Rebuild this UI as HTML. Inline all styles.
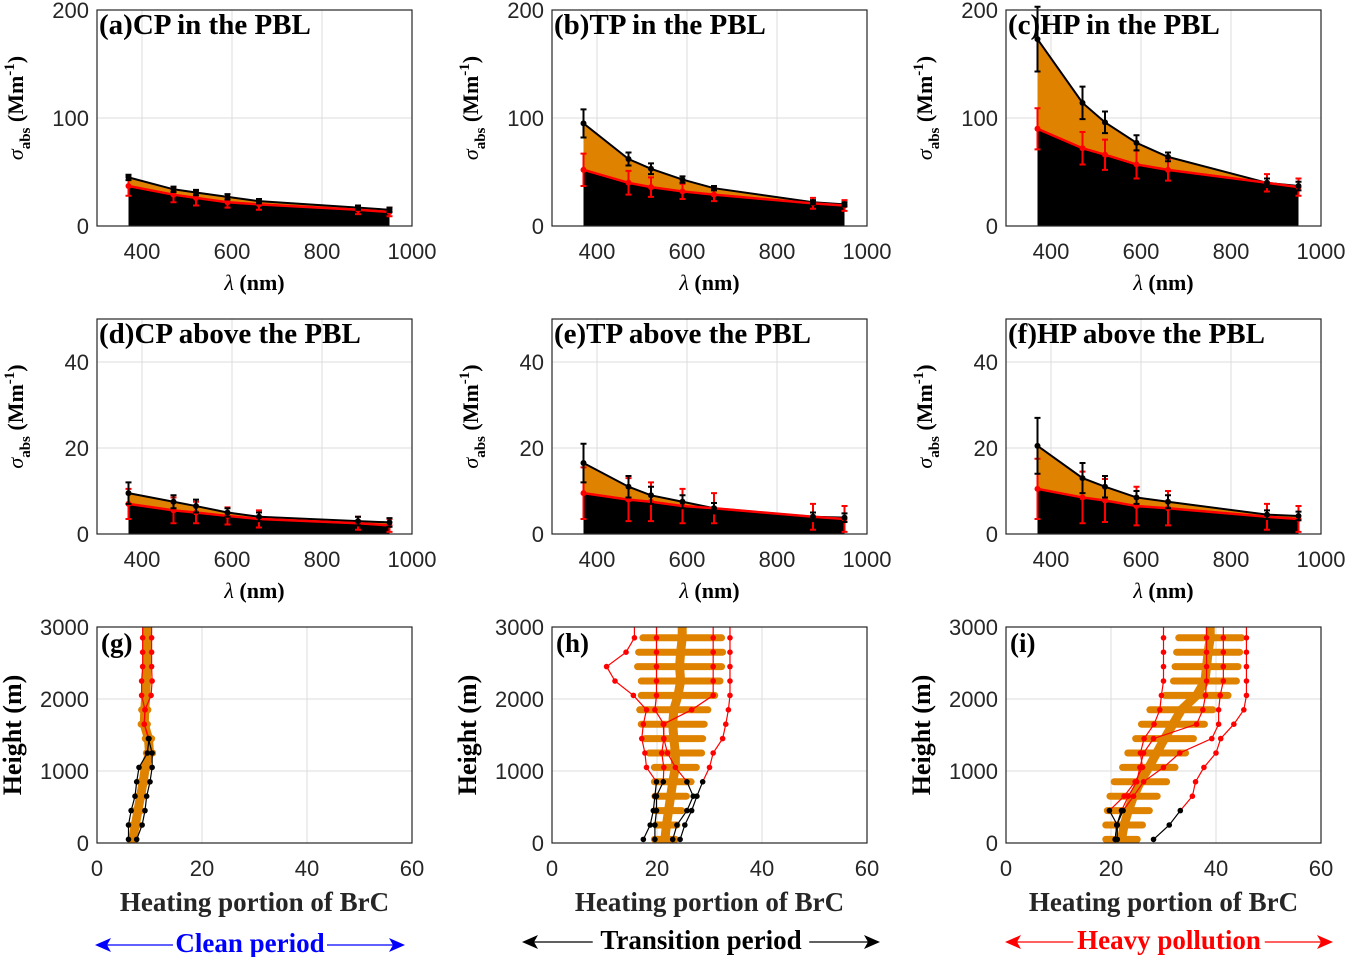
<!DOCTYPE html>
<html><head><meta charset="utf-8"><style>
body{margin:0;background:#fff;width:1348px;height:957px;overflow:hidden}
svg{display:block}
.tk{font-family:"Liberation Sans",sans-serif;font-size:22px;fill:#262626}
.sf{font-family:"Liberation Serif",serif;font-weight:bold}
</style></head><body>
<svg id="fig" width="1348" height="957" xmlns="http://www.w3.org/2000/svg"></svg>
<script>
const wavelengths=[370,470,520,590,660,880,950];
const totA=[45,34,31,27,23,17,15], brA=[37,29,26,22,20,15,13], eTotA=[2.5,2.5,2.5,2.5,2,2,2], eBrA=[9,7,7,5,5,4,4];
const totB=[95,62,53,43,35,22,20], brB=[52,40,36,32,29,21,19], eTotB=[13,6,5,3,2,2,2], eBrB=[15,11,9,7,6,5,5];
const totC=[173,114,96,77,64,40,37], brC=[90,72,66,57,52,40,36], eTotC=[30,15,10,7,4,4,4], eBrC=[19,15,14,13,10,8,8];
const totD=[9.5,7.5,6.5,5,4,3,2.7], brD=[7,5.5,5,4.2,3.5,2.5,2], eTotD=[2.5,1.5,1.5,1,1,1,1], eBrD=[3.5,3,2.5,2,2,1.5,1.5];
const totE=[16.5,11,9,7.5,6,4,3.8], brE=[9.5,8,7.5,6.5,6,4,3.5], eTotE=[4.5,2.5,2,1.5,1.2,1,1], eBrE=[6,5,4.5,4,3.5,3,3];
const totF=[20.5,13,11,8.5,7.5,4.5,4.2], brF=[10.5,8.5,7.8,6.5,6,4,3.5], eTotF=[6.5,3.5,2.5,1.5,1.5,1,1], eBrF=[7,6,5,4.5,4,3,3];
const heights=[50,250,450,650,850,1050,1250,1450,1650,1850,2050,2250,2450,2650,2850];
const meanG=[6.8,7.3,7.8,8.3,8.8,9.2,10,9.8,9.0,9.1,9.3,9.4,9.5,9.5,9.5];
const sdG=[0.6,0.6,0.6,0.6,0.6,0.6,0.6,0.6,0.6,0.6,0.6,0.6,0.6,0.6,0.6];
const g1=[6,6,6.5,7.24,7.56,8,9.6,9.9,9.0,9.14,8.5,8.5,8.7,8.7,8.7];
const g2=[7.56,8.6,9.14,9.46,10.1,10.5,10.5,9.8,9.0,9.14,10.3,10.5,10.4,10.4,10.4];
const meanH=[21.5,21.8,22.2,22.6,23.0,23.5,23.5,23.2,23.0,23.2,24.0,24.5,24.3,24.5,24.8];
const sdH=[2,2,2.5,3,3.5,4,5,5.5,6,6.5,7,7.5,8,8,7.5];
const h1=[24.4,25.3,26.6,27.6,28.7,30.0,30.7,32.5,33.1,33.6,33.9,33.9,33.9,33.9,33.9];
const h2=[23.0,23.8,25.7,26.9,25.7,23.5,22,21.3,21.2,26.6,30.7,30.7,30.7,30.7,30.7];
const h3=[19.6,19.6,19.9,19.9,21.2,21.3,20.9,21.3,21.3,19.6,19.9,19.9,19.9,19.9,19.9];
const h4=[17.4,18.7,19.3,19.6,19.9,18.0,17.7,17.1,17.4,18.0,15.5,12.0,10.4,14.1,15.7];
const meanI=[22,22.5,23.3,24.3,25.6,27.2,28.7,30.2,31.8,33.4,36.3,37.9,38.2,38.5,38.9];
const sdI=[3,3.5,4,4.5,5,5,5.5,5.5,6,6,6,6,6,6,6];
const i1=[28.1,31.1,33.2,35.5,36.1,37.7,40,40.9,43.4,45.3,45.8,45.8,45.8,45.8,45.8];
const i2=[20.8,21.1,22.3,24.3,26.2,30,33.1,39.2,40.5,40.5,40.8,41.4,41.4,41.4,41.4];
const i3=[20.8,21.1,22,23.3,24.9,25.5,26.2,28.1,36.3,37.5,38,38.2,38.2,38.2,38.2];
const i4=[21.2,21.2,19.7,22.5,24.6,26,25.6,26.3,28.2,29.3,29.6,30,30,30,30];
const xTicksW=[400,600,800,1000], xTicksH=[0,20,40,60], yTicksH=[0,1000,2000,3000];

const NS="http://www.w3.org/2000/svg", svg=document.getElementById('fig');
const OR="#DF8200";
function mk(tag,attrs,parent,name,inter){const e=document.createElementNS(NS,tag);for(const k in attrs)e.setAttribute(k,attrs[k]);


(parent||svg).appendChild(e);return e;}
function txt(x,y,s,cls,anchor,parent,name,extra){const t=mk('text',Object.assign({x:x,y:y,class:cls,'text-anchor':anchor||'middle'},extra||{}),parent,name,false);t.textContent=s;return t;}
const colX=[97,552,1006], W=315;

function specPanel(ci,top,h,ymax,yt,tot,br,et,eb,label,id){
  const g=mk('g',{},svg,'panel-'+id,false);
  const x0=colX[ci];
  const sx=v=>x0+(v-300)/700*W, sy=v=>top+h-v/ymax*h;
  xTicksW.forEach(t=>{mk('line',{x1:sx(t),x2:sx(t),y1:top,y2:top+h,stroke:'#dcdcdc','stroke-width':1},g,'x-gridline',false);
    txt(sx(t),top+h+33,String(t),'tk','middle',g,'x-tick-label');});
  yt.forEach(t=>{mk('line',{x1:x0,x2:x0+W,y1:sy(t),y2:sy(t),stroke:'#dcdcdc','stroke-width':1},g,'y-gridline',false);
    txt(x0-8,sy(t)+8,String(t),'tk','end',g,'y-tick-label');});
  let topPts=wavelengths.map((w,i)=>sx(w)+','+sy(tot[i])), brPts=wavelengths.map((w,i)=>sx(w)+','+sy(br[i]));
  mk('polygon',{points:topPts.join(' ')+' '+brPts.slice().reverse().join(' '),fill:OR},g,'brc-area',false);
  mk('polygon',{points:brPts.join(' ')+' '+sx(950)+','+sy(0)+' '+sx(370)+','+sy(0),fill:'#000'},g,'bc-area',false);
  mk('polyline',{points:topPts.join(' '),fill:'none',stroke:'#000','stroke-width':2},g,'total-line',false);
  mk('polyline',{points:brPts.join(' '),fill:'none',stroke:'#ff0000','stroke-width':2.5},g,'bc-line',false);
  wavelengths.forEach((w,i)=>{
    [[br[i],eb[i],'#ff0000','bc-errorbar'],[tot[i],et[i],'#000','total-errorbar']].forEach(([v,e,c,n])=>{
      const x=sx(w);
      mk('path',{d:`M${x},${sy(v+e)}V${sy(v-e)}M${x-3},${sy(v+e)}h6M${x-3},${sy(v-e)}h6`,stroke:c,'stroke-width':2,fill:'none'},g,n,false);
      mk('circle',{cx:x,cy:sy(v),r:3,fill:c},g,n.replace('errorbar','point'),false);
    });
  });
  mk('rect',{x:x0,y:top,width:W,height:h,fill:'none',stroke:'#262626','stroke-width':1.2},g,'axes-box',false);
  txt(x0+2,top+24,label,'sf','start',g,'panel-title',{'font-size':'29px'});
  txt(x0+W/2,top+h+64,'','sf','middle',g,'x-axis-title',{'font-size':'22px'}).innerHTML='<tspan font-style="italic" font-weight="normal">λ</tspan> (nm)';
  const yl=txt(0,0,'','sf','middle',g,'y-axis-title',{'font-size':'22px',transform:`translate(${x0-74},${top+h/2-10}) rotate(-90)`});
  yl.innerHTML='<tspan font-style="italic" font-weight="normal">σ</tspan><tspan font-size="15px" dy="7">abs</tspan><tspan dy="-7"> (Mm</tspan><tspan font-size="15px" dy="-9">-1</tspan><tspan dy="9">)</tspan>';
}
const r1=[0,100,200], r2=[0,20,40];
specPanel(0,10,216,200,r1,totA,brA,eTotA,eBrA,'(a)CP in the PBL','a');
specPanel(1,10,216,200,r1,totB,brB,eTotB,eBrB,'(b)TP in the PBL','b');
specPanel(2,10,216,200,r1,totC,brC,eTotC,eBrC,'(c)HP in the PBL','c');
specPanel(0,319,215,50,r2,totD,brD,eTotD,eBrD,'(d)CP above the PBL','d');
specPanel(1,319,215,50,r2,totE,brE,eTotE,eBrE,'(e)TP above the PBL','e');
specPanel(2,319,215,50,r2,totF,brF,eTotF,eBrF,'(f)HP above the PBL','f');

function profPanel(ci,mean,sd,lines,nBlack,label,id){
  const g=mk('g',{},svg,'panel-'+id,false);
  const x0=colX[ci], top=627, h=216;
  const sx=v=>x0+v/60*W, sy=v=>top+h-v/3000*h;
  xTicksH.forEach(t=>{ if(t>0&&t<60) mk('line',{x1:sx(t),x2:sx(t),y1:top,y2:top+h,stroke:'#dcdcdc'},g,'x-gridline',false);
    txt(sx(t),top+h+33,String(t),'tk','middle',g,'x-tick-label');});
  yTicksH.forEach(t=>{ if(t>0&&t<3000) mk('line',{x1:x0,x2:x0+W,y1:sy(t),y2:sy(t),stroke:'#dcdcdc'},g,'y-gridline',false);
    txt(x0-8,sy(t)+8,String(t),'tk','end',g,'y-tick-label');});
  heights.forEach((hh,i)=>mk('line',{x1:sx(mean[i]-sd[i]),x2:sx(mean[i]+sd[i]),y1:sy(hh),y2:sy(hh),stroke:OR,'stroke-width':7,'stroke-linecap':'round'},g,'std-bar',false));
  mk('polyline',{points:[[mean[0],0]].concat(heights.map((hh,i)=>[mean[i],hh])).concat([[mean[14],3000]]).map(p=>sx(p[0])+','+sy(p[1])).join(' '),fill:'none',stroke:OR,'stroke-width':9},g,'mean-profile',false);
  lines.forEach(L=>{
    const pts=heights.map((hh,i)=>[sx(L[i]),sy(hh)]);
    mk('polyline',{points:pts.slice(nBlack-1).map(p=>p.join(',')).join(' ')+' '+pts[14][0]+','+top,fill:'none',stroke:'#ff0000','stroke-width':1.2},g,'above-pbl-profile',false);
    mk('polyline',{points:pts.slice(0,nBlack).map(p=>p.join(',')).join(' '),fill:'none',stroke:'#000','stroke-width':1.2},g,'in-pbl-profile',false);
    pts.forEach((p,i)=>mk('circle',{cx:p[0],cy:p[1],r:2.8,fill:i<nBlack?'#000':'#ff0000'},g,'profile-point',false));
  });
  mk('rect',{x:x0,y:top,width:W,height:h,fill:'none',stroke:'#262626','stroke-width':1.2},g,'axes-box',false);
  txt(x0+4,top+25,label,'sf','start',g,'panel-label',{'font-size':'27px'});
  txt(x0+W/2,top+h+68,'Heating portion of BrC','sf','middle',g,'x-axis-title',{'font-size':'27px',fill:'#262626'});
  txt(0,0,'Height (m)','sf','middle',g,'y-axis-title',{'font-size':'26px',transform:`translate(${x0-76},${top+h/2}) rotate(-90)`});
}
profPanel(0,meanG,sdG,[g1,g2],8,'(g)','g');
profPanel(1,meanH,sdH,[h1,h2,h3,h4],5,'(h)','h');
profPanel(2,meanI,sdI,[i1,i2,i3,i4],3,'(i)','i');

function arrowLbl(x1,x2,y,col,s,name){
  const g=mk('g',{},svg,name,false);
  mk('line',{x1:x1+4,x2:x2-4,y1:y,y2:y,stroke:col,'stroke-width':1.3},g,name+'-arrow-line',false);
  mk('path',{d:`M${x1},${y}l16,-7l-4,7l4,7z M${x2},${y}l-16,-7l4,7l-4,7z`,fill:col},g,name+'-arrowheads',false);
  const bb=(s.length*12.5);
  mk('rect',{x:(x1+x2)/2-bb/2-2,y:y-3,width:bb+4,height:6,fill:'#fff'},g,name+'-gap',false);
  txt((x1+x2)/2,y+7,s,'sf','middle',g,name+'-text',{'font-size':'27px',fill:col});
}
arrowLbl(95,405,945,'#0000ff','Clean period','clean-period-label');
arrowLbl(522,880,942,'#000000','Transition period','transition-period-label');
arrowLbl(1005,1333,942,'#ff0000','Heavy pollution','heavy-pollution-label');
</script>
</body></html>
